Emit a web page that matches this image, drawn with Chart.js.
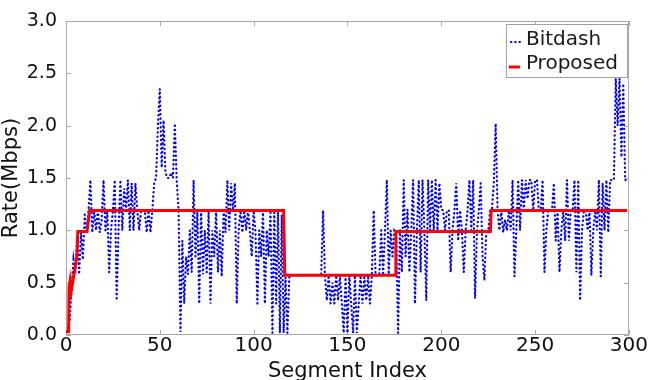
<!DOCTYPE html>
<html>
<head>
<meta charset="utf-8">
<script src="https://cdn.jsdelivr.net/npm/chart.js@4/dist/chart.umd.min.js"></script>
<style>
  html, body { margin: 0; padding: 0; background: #ffffff; }
  #wrap { width: 649px; height: 380px; }
</style>
</head>
<body>
<div id="wrap"><canvas id="c" width="649" height="380"></canvas></div>
<script>
// ---- data ----
const seriesNames = ["Bitdash", "Proposed"];

// Bitdash rate per segment (segment index = position, 0..299), Mbps
const bitdashRate = [
  0.03,0.05,0.15,0.45,0.72,0.60,0.95,0.58,0.98,0.72,
  1.15,0.98,1.19,1.48,0.98,1.19,1.00,1.19,0.98,1.10,
  1.48,1.00,1.19,0.60,1.00,1.19,1.48,0.33,1.00,1.48,
  1.00,1.40,1.19,1.48,1.00,1.45,1.00,1.45,1.19,1.00,
  1.19,1.19,1.19,0.98,1.19,0.98,1.19,1.45,1.50,2.00,
  2.35,1.60,2.05,1.55,1.50,1.50,1.55,1.50,2.02,1.48,
  1.19,0.03,0.90,0.30,0.75,0.58,1.00,0.60,1.48,0.75,
  1.19,0.30,1.19,0.58,1.00,0.60,1.19,0.30,1.00,0.75,
  1.19,0.60,1.00,0.56,1.19,0.98,1.48,1.00,1.45,1.19,
  1.45,0.30,1.00,1.19,0.98,1.19,1.00,1.19,1.00,0.75,
  1.19,0.98,0.30,1.00,0.75,1.19,0.30,1.00,0.75,1.19,
  0.02,1.19,0.30,1.19,0.02,1.15,0.02,0.55,0.02,0.55,
  0.57,0.57,0.57,0.57,0.57,0.57,0.57,0.57,0.57,0.57,
  0.57,0.57,0.57,0.57,0.57,0.57,0.57,1.19,0.57,0.33,
  0.57,0.30,0.50,0.30,0.57,0.33,0.57,0.30,0.02,0.57,
  0.02,0.57,0.30,0.02,0.57,0.02,0.30,0.57,0.30,0.55,
  0.33,0.57,0.30,0.57,1.19,0.57,0.57,0.57,1.00,0.57,
  1.00,1.48,0.58,1.00,0.75,1.00,0.98,0.02,1.00,0.60,
  1.48,0.75,1.20,0.60,1.00,1.48,0.30,1.00,1.48,0.60,
  1.48,1.00,0.33,1.48,1.00,1.48,0.98,1.48,1.00,1.45,
  1.20,1.19,1.00,1.19,1.19,0.60,1.00,1.19,1.45,0.90,
  1.19,1.00,0.60,1.00,1.19,1.48,1.00,1.48,0.35,0.98,
  1.19,1.45,0.75,0.52,1.00,0.98,1.19,1.20,1.45,2.02,
  1.19,1.00,1.19,0.98,1.10,1.00,1.19,1.00,1.48,0.56,
  1.00,1.48,1.00,1.48,1.19,1.48,1.30,1.48,1.48,1.19,
  1.48,1.48,1.19,1.19,1.48,0.60,1.00,1.19,1.19,1.19,
  1.45,0.90,1.19,0.60,1.00,1.19,0.90,1.48,0.90,1.19,
  1.19,1.48,0.60,1.48,0.33,1.00,1.19,1.19,1.00,1.19,
  0.57,1.00,1.19,1.00,1.48,0.56,1.45,1.00,1.48,0.98,
  1.48,1.48,1.48,2.45,2.00,2.45,1.70,2.40,1.48,1.48
];

// Proposed: breakpoints (segment index, rate)
const proposedSegment = [0, 1.4, 1.6, 2.2, 2.8, 5.8, 6.3, 11.2, 12.6, 116, 116.6, 175.4, 175.8, 226.2, 226.6, 299];
const proposedRate    = [0.03, 0.03, 0.45, 0.52, 0.42, 0.75, 0.99, 0.99, 1.19, 1.19, 0.57, 0.57, 0.99, 0.99, 1.19, 1.19];

const segmentTicks = [0, 50, 100, 150, 200, 250, 300];
const rateTicks = [0.0, 0.5, 1.0, 1.5, 2.0, 2.5, 3.0];

const xTitle = "Segment Index";
const yTitle = "Rate(Mbps)";

// ---- build ----
const bitdashPoints = bitdashRate.map((v, i) => ({ x: i, y: v }));
const proposedPoints = proposedSegment.map((s, i) => ({ x: s, y: proposedRate[i] }));

const FONT = "'DejaVu Sans', 'Liberation Sans', sans-serif";

const framePlugin = {
  id: 'frame',
  beforeDatasetsDraw(chart) {
    const { ctx, chartArea: a, scales } = chart;
    ctx.save();
    ctx.strokeStyle = '#a8a8a8';
    ctx.lineWidth = 1;
    ctx.strokeRect(Math.round(a.left) + 0.5, Math.round(a.top) + 0.5,
                   Math.round(a.right - a.left) - 1, Math.round(a.bottom - a.top) - 1);
    ctx.beginPath();
    segmentTicks.forEach(v => {
      const px = Math.round(scales.x.getPixelForValue(v)) + 0.5;
      ctx.moveTo(px, a.bottom); ctx.lineTo(px, a.bottom - 5);
      ctx.moveTo(px, a.top); ctx.lineTo(px, a.top + 5);
    });
    rateTicks.forEach(v => {
      const py = Math.round(scales.y.getPixelForValue(v)) + 0.5;
      ctx.moveTo(a.left, py); ctx.lineTo(a.left + 5, py);
      ctx.moveTo(a.right, py); ctx.lineTo(a.right - 5, py);
    });
    ctx.stroke();
    ctx.restore();
  },
  afterDraw(chart) {
    const { ctx, chartArea: a } = chart;
    const ds = chart.data.datasets;
    ctx.save();
    const bx = a.right - 123, by = a.top + 3, bw = 121, bh = 53;
    ctx.fillStyle = '#ffffff';
    ctx.fillRect(bx, by, bw, bh);
    ctx.strokeStyle = '#a0a0a0';
    ctx.lineWidth = 1;
    ctx.strokeRect(bx + 0.5, by + 0.5, bw, bh);
    ctx.font = '20px ' + FONT;
    ctx.fillStyle = '#1a1a1a';
    ctx.textBaseline = 'alphabetic';
    ctx.textAlign = 'left';
    // entry 1
    ctx.strokeStyle = ds[0].borderColor;
    ctx.lineWidth = ds[0].borderWidth;
    ctx.lineCap = ds[0].borderCapStyle;
    ctx.setLineDash(ds[0].borderDash);
    ctx.beginPath();
    ctx.moveTo(bx + 5, by + 18); ctx.lineTo(bx + 16, by + 18);
    ctx.stroke();
    ctx.fillText(ds[0].label, bx + 20, by + 21);
    // entry 2
    ctx.setLineDash([]);
    ctx.lineCap = 'butt';
    ctx.strokeStyle = ds[1].borderColor;
    ctx.lineWidth = ds[1].borderWidth;
    ctx.beginPath();
    ctx.moveTo(bx + 3, by + 43); ctx.lineTo(bx + 14, by + 43);
    ctx.stroke();
    ctx.fillText(ds[1].label, bx + 20, by + 45);
    ctx.restore();
  }
};

new Chart(document.getElementById('c'), {
  type: 'line',
  data: {
    datasets: [
      {
        label: seriesNames[0],
        data: bitdashPoints,
        borderColor: '#0000ff',
        borderWidth: 2.2,
        borderDash: [0.4, 3.9],
        borderCapStyle: 'round',
        pointRadius: 0,
        tension: 0,
        fill: false,
        order: 1
      },
      {
        label: seriesNames[1],
        data: proposedPoints,
        borderColor: '#ff0000',
        borderWidth: 3,
        pointRadius: 0,
        tension: 0,
        fill: false,
        order: 0
      }
    ]
  },
  options: {
    responsive: false,
    animation: false,
    devicePixelRatio: 1,
    layout: { padding: { top: 21, right: 19, left: 0, bottom: 0 } },
    plugins: { legend: { display: false }, tooltip: { enabled: false } },
    scales: {
      x: {
        type: 'linear',
        min: 0, max: 300,
        afterFit(s) { s.height = 45; },
        afterBuildTicks(s) { s.ticks = segmentTicks.map(v => ({ value: v })); },
        grid: { display: false, drawTicks: false },
        border: { display: false },
        ticks: { color: '#111', font: { family: FONT, size: 20, lineHeight: 1.0 }, padding: 1, maxRotation: 0,
                 callback: v => String(v) },
        title: { display: true, text: xTitle, color: '#111', font: { family: FONT, size: 21, lineHeight: 0.85 },
                 padding: { top: 0, bottom: 0 } }
      },
      y: {
        min: 0, max: 3,
        afterFit(s) { s.width = 66; },
        afterBuildTicks(s) { s.ticks = rateTicks.map(v => ({ value: v })); },
        grid: { display: false, drawTicks: false },
        border: { display: false },
        ticks: { color: '#111', font: { family: FONT, size: 19 }, padding: 9,
                 callback: v => Number(v).toFixed(1) },
        title: { display: true, text: yTitle, color: '#111', font: { family: FONT, size: 21, lineHeight: 1.0 },
                 padding: { top: 1, bottom: 0 } }
      }
    }
  },
  plugins: [framePlugin]
});
</script>
</body>
</html>
